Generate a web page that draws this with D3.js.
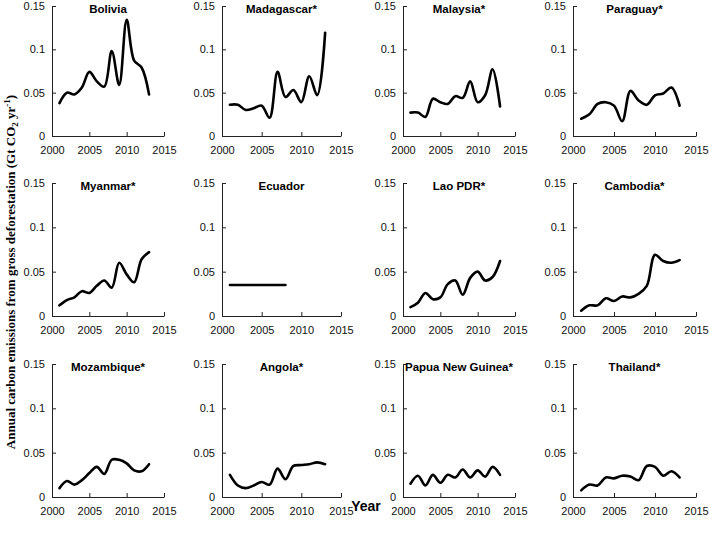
<!DOCTYPE html>
<html><head><meta charset="utf-8">
<script src="https://cdn.jsdelivr.net/npm/d3@7"></script>
<style>body{margin:0;background:#fff}svg{display:block}</style>
</head><body>
<svg id="chart" width="709" height="537"></svg>
<script>
// ---- data ----
const years = [2001, 2002, 2003, 2004, 2005, 2006, 2007, 2008, 2009, 2010, 2011, 2012, 2013];
const ecuadorYears = [2001, 2002, 2003, 2004, 2005, 2006, 2007, 2008];
const countries = ["Bolivia", "Madagascar*", "Malaysia*", "Paraguay*",
                   "Myanmar*", "Ecuador", "Lao PDR*", "Cambodia*",
                   "Mozambique*", "Angola*", "Papua New Guinea*", "Thailand*"];
const bolivia    = [0.038, 0.050, 0.048, 0.056, 0.074, 0.063, 0.057, 0.098, 0.059, 0.134, 0.087, 0.079, 0.048];
const madagascar = [0.036, 0.036, 0.030, 0.032, 0.035, 0.021, 0.074, 0.045, 0.053, 0.039, 0.069, 0.047, 0.119];
const malaysia   = [0.027, 0.027, 0.022, 0.043, 0.039, 0.037, 0.046, 0.044, 0.063, 0.039, 0.047, 0.077, 0.034];
const paraguay   = [0.020, 0.025, 0.037, 0.039, 0.035, 0.017, 0.052, 0.041, 0.036, 0.047, 0.049, 0.056, 0.035];
const myanmar    = [0.012, 0.018, 0.021, 0.028, 0.026, 0.034, 0.040, 0.032, 0.060, 0.047, 0.038, 0.064, 0.072];
const ecuador    = [0.035, 0.035, 0.035, 0.035, 0.035, 0.035, 0.035, 0.035];
const lao        = [0.010, 0.015, 0.026, 0.019, 0.021, 0.036, 0.040, 0.024, 0.043, 0.050, 0.040, 0.044, 0.062];
const cambodia   = [0.006, 0.012, 0.012, 0.020, 0.017, 0.022, 0.021, 0.025, 0.034, 0.069, 0.062, 0.060, 0.063];
const mozambique = [0.010, 0.018, 0.014, 0.019, 0.027, 0.034, 0.026, 0.042, 0.042, 0.038, 0.030, 0.029, 0.037];
const angola     = [0.025, 0.013, 0.010, 0.013, 0.017, 0.014, 0.032, 0.020, 0.035, 0.036, 0.037, 0.039, 0.037];
const png        = [0.015, 0.024, 0.013, 0.025, 0.016, 0.025, 0.022, 0.031, 0.022, 0.030, 0.023, 0.034, 0.025];
const thailand   = [0.0075, 0.014, 0.013, 0.022, 0.021, 0.024, 0.023, 0.019, 0.035, 0.034, 0.024, 0.029, 0.022];
const seriesValues = [bolivia, madagascar, malaysia, paraguay, myanmar, ecuador, lao, cambodia,
                      mozambique, angola, png, thailand];
const seriesYears = [years, years, years, years, years, ecuadorYears, years, years,
                     years, years, years, years];
const xTicks = [2000, 2005, 2010, 2015];
const yTicks = [0, 0.05, 0.1, 0.15];
const yTickLabels = ["0", "0.05", "0.1", "0.15"];
const xTitle = "Year";

// ---- layout ----
const colL = [52, 222, 403, 573], colR = [164, 341, 515, 696];
const rowT = [6, 183, 364], rowB = [136, 316, 497];

const svg = d3.select("#chart");
const tickFont = "'Liberation Sans', Arial, sans-serif";

countries.forEach((name, i) => {
  const r = Math.floor(i / 4), c = i % 4;
  const x = d3.scaleLinear().domain([2000, 2015]).range([colL[c], colR[c]]);
  const y = d3.scaleLinear().domain([0, 0.15]).range([rowB[r], rowT[r]]);
  const g = svg.append("g");

  const xa = g.append("g").attr("transform", `translate(0,${rowB[r]})`)
    .call(d3.axisBottom(x).tickValues(xTicks).tickFormat(d3.format("d"))
      .tickSizeInner(-4).tickSizeOuter(0).tickPadding(10));
  const ya = g.append("g").attr("transform", `translate(${colL[c]},0)`)
    .call(d3.axisLeft(y).tickValues(yTicks).tickFormat((d, k) => yTickLabels[k])
      .tickSizeInner(-4).tickSizeOuter(0).tickPadding(7));
  [xa, ya].forEach(a => {
    a.selectAll("path,line").attr("stroke", "#222").attr("stroke-width", 1);
    a.selectAll("text").attr("font-family", tickFont).attr("font-size", 11).attr("fill", "#111");
  });

  const line = d3.line()
    .x((d, k) => x(seriesYears[i][k]))
    .y(d => y(d))
    .curve(d3.curveCatmullRom.alpha(0.5));
  g.append("path").datum(seriesValues[i])
    .attr("d", line).attr("fill", "none").attr("stroke", "#000")
    .attr("stroke-width", 2.6).attr("stroke-linejoin", "round").attr("stroke-linecap", "round");

  g.append("text").attr("x", (colL[c] + colR[c]) / 2).attr("y", rowT[r] + 7)
    .attr("text-anchor", "middle").attr("font-family", "Arial, 'Liberation Sans', sans-serif")
    .attr("font-weight", "bold").attr("font-size", 11.5).attr("fill", "#000").text(name);
});

svg.append("text").attr("x", 366).attr("y", 511).attr("text-anchor", "middle")
  .attr("font-family", "Arial, 'Liberation Sans', sans-serif").attr("font-weight", "bold")
  .attr("font-size", 14).text(xTitle);

const yt = svg.append("text").attr("transform", "translate(15,272) rotate(-90)")
  .attr("text-anchor", "middle").attr("font-family", "'Liberation Serif', 'Times New Roman', serif")
  .attr("font-weight", "bold").attr("font-size", 13);
yt.append("tspan").text("Annual carbon emissions from gross deforestation (Gt CO");
yt.append("tspan").attr("font-size", 9).attr("dy", 3).text("2");
yt.append("tspan").attr("dy", -3).text(" yr");
yt.append("tspan").attr("font-size", 9).attr("dy", -5).text("-1");
yt.append("tspan").attr("dy", 5).text(")");
</script>
</body></html>
